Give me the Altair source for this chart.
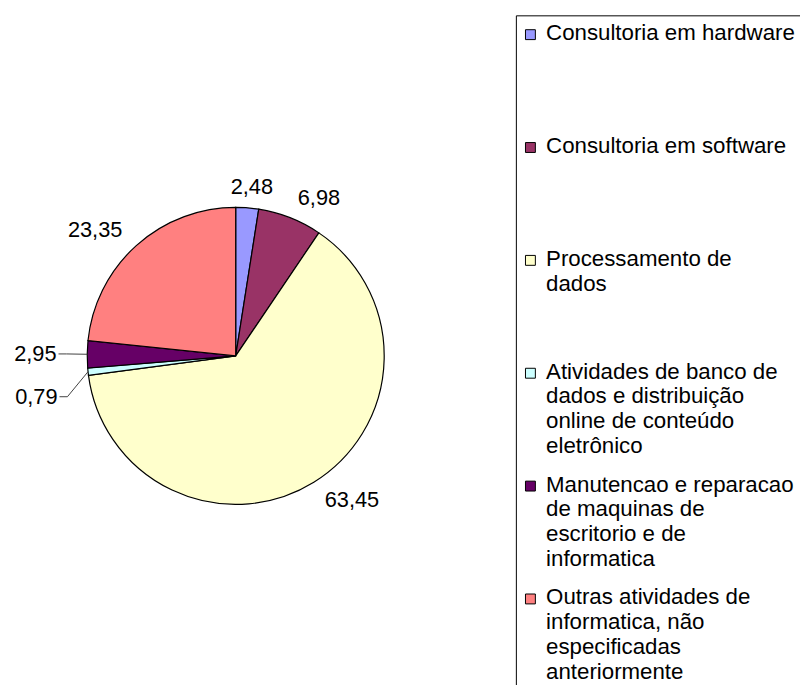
import altair as alt
import pandas as pd

# ---------------- data ----------------
categories = [
    "Consultoria em hardware",
    "Consultoria em software",
    "Processamento de dados",
    "Atividades de banco de dados e distribuição online de conteúdo eletrônico",
    "Manutencao e reparacao de maquinas de escritorio e de informatica",
    "Outras atividades de informatica, não especificadas anteriormente",
]
legend_text = [
    "Consultoria em hardware",
    "Consultoria em software",
    "Processamento de\ndados",
    "Atividades de banco de\ndados e distribuição\nonline de conteúdo\neletrônico",
    "Manutencao e reparacao\nde maquinas de\nescritorio e de\ninformatica",
    "Outras atividades de\ninformatica, não\nespecificadas\nanteriormente",
]
values = [2.48, 6.98, 63.45, 0.79, 2.95, 23.35]
value_labels = ["2,48", "6,98", "63,45", "0,79", "2,95", "23,35"]

# ---------------- style / layout ----------------
colors = ["#9999FF", "#993366", "#FFFFCC", "#CCFFFF", "#660066", "#FF8080"]
label_group = ["center", "left", "left", "leader", "leader", "right"]
label_shift = [0, 0, 0, 22, 0, 0]   # vertical shift of leader labels (px)

FONT = "Liberation Sans"
FS = 22
FS_LEG = 22.5
CX, CY = 230, 348        # pie centre (chart coords)
R = 150                  # pie radius
RL = 171                 # label radius
RLEAD = 181              # leader label radius

df = pd.DataFrame({
    "category": categories,
    "legend": legend_text,
    "value": values,
    "label": value_labels,
    "idx": list(range(len(categories))),
    "group": label_group,
    "ldy": label_shift,
})

color_scale = alt.Scale(domain=categories, range=colors)
base = alt.Chart(df)

pie = base.mark_arc(radius=R, stroke="black", strokeWidth=1.2).encode(
    theta=alt.Theta("value:Q", stack=True),
    color=alt.Color("category:N", scale=color_scale, legend=None),
    order=alt.Order("idx:Q"),
    x=alt.value(CX),
    y=alt.value(CY),
)


def label_layer(group, align, dx=0):
    return base.transform_calculate(
        t=f"datum.group == '{group}' ? datum.label : ''"
    ).mark_text(
        radius=RL, align=align, baseline="middle", font=FONT, fontSize=FS,
        color="black", dx=dx
    ).encode(
        theta=alt.Theta("value:Q", stack=True),
        order=alt.Order("idx:Q"),
        detail="category:N",
        text="t:N",
        x=alt.value(CX),
        y=alt.value(CY),
    )


lab_c = label_layer("center", "center", dx=3)
lab_l = label_layer("left", "left")
lab_r = label_layer("right", "right")

lead = base.transform_joinaggregate(total="sum(value)").transform_window(
    cum="sum(value)", sort=[alt.SortField("idx")], frame=[None, 0]
).transform_calculate(
    mid="2*PI*(datum.cum - datum.value/2)/datum.total"
).transform_calculate(
    ex=f"{CX} + {R}*sin(datum.mid)",
    ey=f"{CY} - {R}*cos(datum.mid)",
    lx=f"{CX} + {RLEAD}*sin(datum.mid)",
    ly=f"{CY} - {RLEAD}*cos(datum.mid) + datum.ldy",
).transform_calculate(
    bx="datum.lx + 10", cx2="datum.lx + 2"
).transform_filter("datum.group == 'leader'")

lead_text = lead.mark_text(
    align="right", baseline="middle", font=FONT, fontSize=FS, color="black"
).encode(
    x=alt.X("lx:Q", scale=None),
    y=alt.Y("ly:Q", scale=None),
    text="label:N",
)
lead_seg1 = lead.mark_rule(color="#404040", strokeWidth=1).encode(
    x=alt.X("ex:Q", scale=None),
    y=alt.Y("ey:Q", scale=None),
    x2="bx:Q",
    y2="ly:Q",
)
lead_seg2 = lead.mark_rule(color="#404040", strokeWidth=1).encode(
    x=alt.X("bx:Q", scale=None),
    x2="cx2:Q",
    y=alt.Y("ly:Q", scale=None),
)

# ---------------- legend ----------------
box = alt.Chart(pd.DataFrame({"k": [0]})).mark_rect(
    fill="white", stroke="black", strokeWidth=1
).encode(
    x=alt.value(513.5), x2=alt.value(840), y=alt.value(4.5), y2=alt.value(760)
)

ly_scale = alt.Scale(domain=[0, 5], range=[23.5, 593.5], nice=False, zero=False)

leg_sq = base.mark_square(size=100, stroke="black", strokeWidth=1, opacity=1).encode(
    x=alt.value(527.7),
    y=alt.Y("idx:Q", scale=ly_scale, axis=None),
    color=alt.Color("category:N", scale=color_scale, legend=None),
)
leg_txt = base.mark_text(
    align="left", baseline="alphabetic", lineBreak="\n", lineHeight=25,
    font=FONT, fontSize=FS_LEG, color="black", dy=5.5
).encode(
    x=alt.value(543.5),
    y=alt.Y("idx:Q", scale=ly_scale, axis=None),
    text="legend:N",
)

chart = alt.layer(
    box, pie, lab_c, lab_l, lab_r, lead_seg1, lead_seg2, lead_text, leg_sq, leg_txt
).resolve_scale(x="independent", y="independent").properties(
    width=800, height=677, padding=0, autosize="none", background="white"
).configure_view(stroke=None)

chart.save("out.html", embed_options={"renderer": "svg", "actions": False})
